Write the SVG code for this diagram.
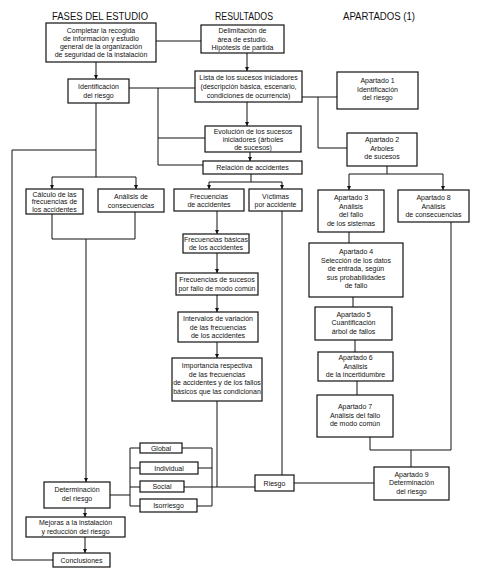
<svg xmlns="http://www.w3.org/2000/svg" width="481" height="569" viewBox="0 0 481 569">
<defs>
<marker id="ah" viewBox="0 0 6 6" refX="6" refY="3" markerWidth="4" markerHeight="4" markerUnits="userSpaceOnUse" orient="auto"><path d="M0,0 L6,3 L0,6 z" fill="#111"/></marker>
<style>
rect{fill:#fff;stroke:#111;stroke-width:1.2}
text{font-family:"Liberation Sans",Arial,sans-serif;font-size:7px;fill:#111;text-anchor:middle}
.h{font-size:10px}
#connectors path{fill:none;stroke:#111;stroke-width:1}
.a{marker-end:url(#ah)}
</style>
</defs>
<rect x="0" y="0" width="481" height="569" style="fill:#fff;stroke:none"/>
<text class="h" x="100" y="20" textLength="96" lengthAdjust="spacingAndGlyphs">FASES DEL ESTUDIO</text>
<text class="h" x="244" y="20" textLength="58" lengthAdjust="spacingAndGlyphs">RESULTADOS</text>
<text class="h" x="379" y="20" textLength="72" lengthAdjust="spacingAndGlyphs">APARTADOS (1)</text>

<g id="connectors">
<path d="M156,41 H201"/>
<path class="a" d="M96,62 V79"/>
<path class="a" d="M247,53 V71"/>
<path d="M129,88 H195"/>
<path d="M158,88 V165 H203"/>
<path d="M158,138 H205"/>
<path class="a" d="M247,102 V126"/>
<path class="a" d="M250,152 V161"/>
<path d="M302,97 H337"/>
<path d="M318,97 V148 H347"/>
<path d="M96,103 V177"/>
<path d="M52,177 H136"/>
<path class="a" d="M52,177 V189"/>
<path class="a" d="M136,177 V189"/>
<path d="M53,560 H12 V150 H96"/>
<path d="M251,174 V182"/>
<path d="M209,182 H282"/>
<path class="a" d="M209,182 V189"/>
<path class="a" d="M282,182 V189"/>
<path d="M387,166 V174"/>
<path d="M349,174 H443"/>
<path class="a" d="M349,174 V190"/>
<path class="a" d="M443,174 V190"/>
<path d="M52,214 V239 H135 V212"/>
<path class="a" d="M86,239 V482"/>
<path class="a" d="M217,211 V234"/>
<path class="a" d="M217,253 V273"/>
<path class="a" d="M217,295 V312"/>
<path class="a" d="M217,342 V358"/>
<path d="M217,401 V487"/>
<path d="M282,211 V475"/>
<path d="M349,232 V243"/>
<path d="M353,297 V307"/>
<path d="M355,340 V352"/>
<path d="M357,381 V395"/>
<path d="M370,437 V450 H451 V222"/>
<path d="M411,450 V467"/>
<path d="M294,483 H374"/>
<path d="M110,495 H130"/>
<path d="M140,448 H130 V506 H140"/>
<path d="M130,468 H140"/>
<path d="M130,487 H140"/>
<path d="M182,448 H212 V506 H197"/>
<path d="M198,468 H212"/>
<path d="M184,487 H255"/>
<path class="a" d="M85,508 V517"/>
<path class="a" d="M85,537 V553"/>
</g>

<g id="n_completar"><rect x="46" y="23" width="110" height="39"/><text x="101" y="33">Completar la recogida</text><text x="101" y="41">de información y estudio</text><text x="101" y="49">general de la organización</text><text x="101" y="57">de seguridad de la instalación</text></g>
<g id="n_ident"><rect x="68" y="79" width="61" height="24"/><text x="98.5" y="89">Identificación</text><text x="98.5" y="98">del riesgo</text></g>
<g id="n_delim"><rect x="201" y="25" width="83" height="28"/><text x="242.5" y="33">Delimitación de</text><text x="242.5" y="41.5">área de estudio.</text><text x="242.5" y="50">Hipótesis de partida</text></g>
<g id="n_lista"><rect x="195" y="71" width="107" height="31"/><text x="248.5" y="80">Lista de los sucesos iniciadores</text><text x="248.5" y="89">(descripción básica, escenario,</text><text x="248.5" y="98">condiciones de ocurrencia)</text></g>
<g id="n_evol"><rect x="205" y="126" width="96" height="26"/><text x="253" y="134">Evolución de los sucesos</text><text x="253" y="142">iniciadores (árboles</text><text x="253" y="150">de sucesos)</text></g>
<g id="n_rel"><rect x="203" y="161" width="99" height="13"/><text x="252.5" y="170">Relación de accidentes</text></g>
<g id="n_ap1"><rect x="337" y="72" width="81" height="37"/><text x="377.5" y="83">Apartado 1</text><text x="377.5" y="91.5">Identificación</text><text x="377.5" y="100">del riesgo</text></g>
<g id="n_ap2"><rect x="347" y="133" width="70" height="33"/><text x="382" y="142">Apartado 2</text><text x="382" y="150.5">Arboles</text><text x="382" y="159">de sucesos</text></g>
<g id="n_calc"><rect x="26" y="189" width="57" height="25"/><text x="54.5" y="196.5">Cálculo de las</text><text x="54.5" y="204">frecuencias de</text><text x="54.5" y="211.5">los accidentes</text></g>
<g id="n_anal"><rect x="98" y="189" width="66" height="23"/><text x="131" y="199">Análisis de</text><text x="131" y="207.5">consecuencias</text></g>
<g id="n_frec"><rect x="174" y="189" width="70" height="22"/><text x="209" y="198.5">Frecuencias</text><text x="209" y="207">de accidentes</text></g>
<g id="n_vict"><rect x="249" y="189" width="53" height="22"/><text x="275.5" y="198.5">Víctimas</text><text x="275.5" y="207">por accidente</text></g>
<g id="n_ap3"><rect x="318" y="190" width="66" height="42"/><text x="351" y="200">Apartado 3</text><text x="351" y="208.5">Análisis</text><text x="351" y="217">del fallo</text><text x="351" y="225.5">de los sistemas</text></g>
<g id="n_ap8"><rect x="398" y="190" width="71" height="32"/><text x="433.5" y="200">Apartado 8</text><text x="433.5" y="208.5">Análisis</text><text x="433.5" y="217">de consecuencias</text></g>
<g id="n_fbas"><rect x="183" y="234" width="66" height="19"/><text x="216" y="242">Frecuencias básicas</text><text x="216" y="250">de los accidentes</text></g>
<g id="n_ap4"><rect x="309" y="243" width="94" height="54"/><text x="356" y="254">Apartado 4</text><text x="356" y="262.5">Selección de los datos</text><text x="356" y="271">de entrada, según</text><text x="356" y="279.5">sus probabilidades</text><text x="356" y="288">de fallo</text></g>
<g id="n_fsuc"><rect x="176" y="273" width="82" height="22"/><text x="217" y="282">Frecuencias de sucesos</text><text x="217" y="291">por fallo de modo común</text></g>
<g id="n_ap5"><rect x="315" y="307" width="77" height="33"/><text x="353.5" y="316.5">Apartado 5</text><text x="353.5" y="325">Cuantificación</text><text x="353.5" y="333.5">árbol de fallos</text></g>
<g id="n_interv"><rect x="178" y="312" width="80" height="30"/><text x="218" y="321">Intervalos de variación</text><text x="218" y="329.5">de las frecuencias</text><text x="218" y="338">de los accidentes</text></g>
<g id="n_ap6"><rect x="318" y="352" width="75" height="29"/><text x="355.5" y="360">Apartado 6</text><text x="355.5" y="368.5">Análisis</text><text x="355.5" y="377">de la incertidumbre</text></g>
<g id="n_import"><rect x="172" y="358" width="90" height="43"/><text x="217" y="368">Importancia respectiva</text><text x="217" y="376.5">de las frecuencias</text><text x="217" y="385">de accidentes y de los fallos</text><text x="217" y="393.5">básicos que las condicionan</text></g>
<g id="n_ap7"><rect x="317" y="395" width="76" height="42"/><text x="355" y="409">Apartado 7</text><text x="355" y="417.5">Análisis del fallo</text><text x="355" y="426">de modo común</text></g>
<g id="n_global"><rect x="140" y="443" width="42" height="10"/><text x="161" y="450.5">Global</text></g>
<g id="n_indiv"><rect x="140" y="462" width="58" height="12"/><text x="169" y="470.5">Individual</text></g>
<g id="n_social"><rect x="140" y="481" width="44" height="11"/><text x="162" y="489">Social</text></g>
<g id="n_isor"><rect x="140" y="499" width="57" height="13"/><text x="168.5" y="508">Isorriesgo</text></g>
<g id="n_riesgo"><rect x="255" y="475" width="39" height="16"/><text x="274.5" y="485.5">Riesgo</text></g>
<g id="n_ap9"><rect x="374" y="467" width="75" height="33"/><text x="411.5" y="476.5">Apartado 9</text><text x="411.5" y="485">Determinación</text><text x="411.5" y="493.5">del riesgo</text></g>
<g id="n_determ"><rect x="44" y="482" width="66" height="26"/><text x="77" y="492">Determinación</text><text x="77" y="501">del riesgo</text></g>
<g id="n_mejoras"><rect x="26" y="517" width="99" height="20"/><text x="75.5" y="525">Mejoras a la instalación</text><text x="75.5" y="533.5">y reducción del riesgo</text></g>
<g id="n_concl"><rect x="53" y="553" width="57" height="14"/><text x="81.5" y="563">Conclusiones</text></g>
</svg>
